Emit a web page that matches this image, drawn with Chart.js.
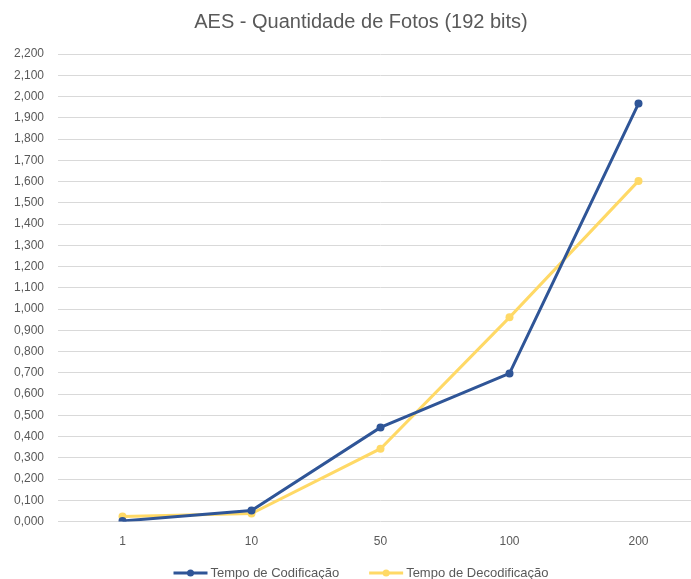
<!DOCTYPE html>
<html>
<head>
<meta charset="utf-8">
<script src="https://cdn.jsdelivr.net/npm/chart.js@4"></script>
<style>
  html, body { margin: 0; padding: 0; background: #fff; overflow: hidden; }
  #wrap { width: 722px; height: 579px; }
</style>
</head>
<body>
<div id="wrap"><canvas id="c" width="722" height="579"></canvas></div>
<script>
// Number of photos encrypted
const categories = ['1', '10', '50', '100', '200'];
// Times (s) for AES with a 192-bit key
const tempoCodificacao   = [0.003, 0.052, 0.443, 0.697, 1.967];
const tempoDecodificacao = [0.024, 0.038, 0.343, 0.961, 1.603];
const seriesNames = ['Tempo de Codificação', 'Tempo de Decodificação'];
const yMin = 0, yMax = 2.2, yStep = 0.1;

const BLUE = '#2F5597';
const YELLOW = '#FFD966';
const TEXT = '#595959';
const FONT = "'Liberation Sans', Arial, sans-serif";

// Legend drawn below the axis: line sample with a marker, then the label
const lineLegend = {
  id: 'lineLegend',
  afterDraw(chart) {
    const ctx = chart.ctx;
    ctx.save();
    ctx.font = '13px ' + FONT;
    const sample = 34, gapText = 3, gapItem = 30;
    const items = chart.data.datasets.map(ds => ({
      ds, w: sample + gapText + ctx.measureText(ds.label).width
    }));
    const total = items.reduce((s, it) => s + it.w, 0) + gapItem * (items.length - 1);
    let x = chart.width / 2 - total / 2;
    const y = 573;
    items.forEach(it => {
      ctx.strokeStyle = it.ds.borderColor;
      ctx.lineWidth = 3;
      ctx.beginPath();
      ctx.moveTo(x, y);
      ctx.lineTo(x + sample, y);
      ctx.stroke();
      ctx.fillStyle = it.ds.borderColor;
      ctx.beginPath();
      ctx.arc(x + sample / 2, y, 3.5, 0, Math.PI * 2);
      ctx.fill();
      ctx.fillStyle = TEXT;
      ctx.textBaseline = 'middle';
      ctx.textAlign = 'left';
      ctx.fillText(it.ds.label, x + sample + gapText, y);
      x += it.w + gapItem;
    });
    ctx.restore();
  }
};

new Chart(document.getElementById('c'), {
  type: 'line',
  data: {
    labels: categories,
    datasets: [
      {
        label: seriesNames[0],
        data: tempoCodificacao,
        borderColor: BLUE,
        backgroundColor: BLUE,
        borderWidth: 3,
        pointRadius: 4,
        pointBorderWidth: 0,
        pointBackgroundColor: BLUE,
        tension: 0,
        order: 1
      },
      {
        label: seriesNames[1],
        data: tempoDecodificacao,
        borderColor: YELLOW,
        backgroundColor: YELLOW,
        borderWidth: 3,
        pointRadius: 4,
        pointBorderWidth: 0,
        pointBackgroundColor: YELLOW,
        tension: 0,
        order: 2
      }
    ]
  },
  options: {
    responsive: false,
    animation: false,
    layout: { padding: { left: 0, right: 0, top: 0, bottom: 17 } },
    plugins: {
      legend: { display: false },
      tooltip: { enabled: false },
      title: {
        display: true,
        text: 'AES - Quantidade de Fotos (192 bits)',
        color: TEXT,
        font: { family: FONT, size: 20, weight: 'normal' },
        padding: { top: 10, bottom: 20 }
      }
    },
    scales: {
      x: {
        offset: true,
        grid: { display: false, drawTicks: false },
        border: { display: false },
        ticks: {
          color: TEXT,
          font: { family: FONT, size: 12 },
          padding: 13
        }
      },
      y: {
        min: yMin,
        max: yMax,
        afterFit(scale) { scale.width = 58; },
        grid: { color: '#d9d9d9', lineWidth: 1, drawTicks: false },
        border: { display: false },
        ticks: {
          stepSize: yStep,
          color: TEXT,
          font: { family: FONT, size: 12 },
          padding: 14,
          callback: v => Number(v).toFixed(3).replace('.', ',')
        }
      },
      // empty right-hand margin beside the plot
      yRight: {
        position: 'right',
        min: yMin,
        max: yMax,
        afterFit(scale) { scale.width = 19; },
        grid: { display: false, drawTicks: false },
        border: { display: false },
        ticks: { display: false }
      }
    }
  },
  plugins: [lineLegend]
});
</script>
</body>
</html>
